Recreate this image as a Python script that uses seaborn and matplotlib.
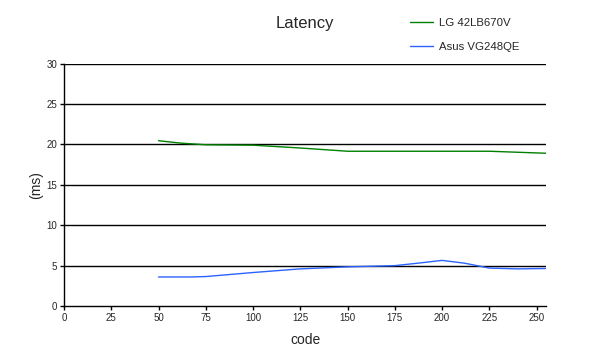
import matplotlib
matplotlib.use("Agg")
import matplotlib.pyplot as plt
import seaborn as sns
import pandas as pd

lg_x = [50, 62, 75, 100, 125, 150, 175, 200, 225, 255]
lg_y = [20.45, 20.15, 19.95, 19.9, 19.55, 19.15, 19.15, 19.15, 19.15, 18.9]
asus_x = [50, 67, 75, 100, 125, 150, 175, 187, 200, 212, 225, 240, 255]
asus_y = [3.6, 3.6, 3.65, 4.15, 4.6, 4.85, 5.0, 5.3, 5.65, 5.3, 4.7, 4.6, 4.65]
series_names = ["LG 42LB670V", "Asus VG248QE"]
x_ticks = [0, 25, 50, 75, 100, 125, 150, 175, 200, 225, 250]
y_ticks = [0, 5, 10, 15, 20, 25, 30]

df = pd.concat([
    pd.DataFrame({"code": lg_x, "ms": lg_y, "series": series_names[0]}),
    pd.DataFrame({"code": asus_x, "ms": asus_y, "series": series_names[1]}),
])

sns.set_style("white")
plt.rcParams['font.family'] = ['Liberation Sans', 'DejaVu Sans']

fig = plt.figure(figsize=(6, 3.49), dpi=100)
ax = fig.add_axes([0.1067, 0.123, 0.8033, 0.695])
sns.lineplot(data=df, x="code", y="ms", hue="series", ax=ax,
             palette={series_names[0]: "#008000", series_names[1]: "#2a63ff"},
             linewidth=1.0, sort=True, estimator=None)

ax.set_xlim(0, 255)
ax.set_ylim(0, 30)
ax.set_xticks(x_ticks)
ax.set_yticks(y_ticks)
ax.tick_params(axis='both', labelsize=7, length=3, width=1, direction='out',
               color='black', pad=2, bottom=True, left=True)
for y in y_ticks[1:]:
    ax.axhline(y, color='black', lw=1.0, zorder=0)
for s in ["top", "right"]:
    ax.spines[s].set_visible(False)
for s in ["left", "bottom"]:
    ax.spines[s].set_color('black')
    ax.spines[s].set_linewidth(1.0)
ax.set_xlabel("code", fontsize=10, labelpad=7.5)
ax.set_ylabel("(ms)", fontsize=10, labelpad=2)
ax.set_title("Latency", fontsize=12, pad=25.5)

leg = ax.legend(loc="upper left", bbox_to_anchor=(0.709, 1.205), frameon=False,
                fontsize=8.2, handlelength=2.0, handletextpad=0.55,
                labelspacing=1.2, borderaxespad=0)
fig.savefig("out.png", dpi=100)
